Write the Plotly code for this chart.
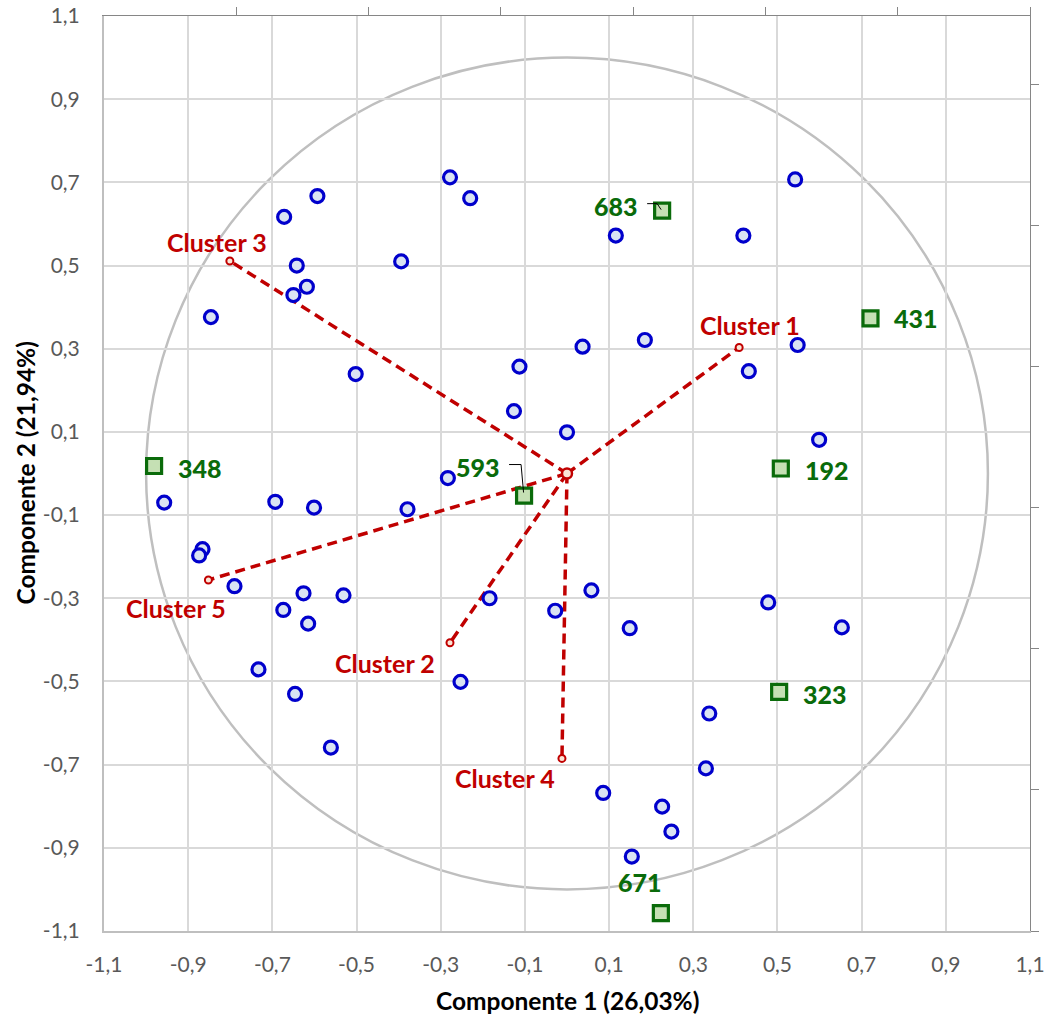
import plotly.graph_objects as go

# ---- data -------------------------------------------------------------
# variables projected on the first two principal components
var_x = [-0.278, -0.230, -0.593, -0.672, -0.642, -0.618, -0.650, -0.846, -0.394, -0.502,
         0.116, 0.037, 0.185, -0.113, -0.126, 0.000, -0.283, 0.542, 0.419, 0.548,
         0.432, 0.599, -0.957, -0.693, -0.601, -0.379, -0.866, -0.874, -0.790, -0.626,
         -0.531, -0.674, -0.615, -0.733, -0.646, -0.561, -0.184, -0.028, 0.058, 0.149,
         -0.253, 0.478, 0.653, 0.338, 0.330, 0.086, 0.226, 0.248, 0.154]
var_y = [0.712, 0.662, 0.667, 0.617, 0.500, 0.449, 0.429, 0.376, 0.510, 0.239,
         0.572, 0.305, 0.321, 0.257, 0.150, 0.099, -0.011, 0.707, 0.572, 0.309,
         0.246, 0.081, -0.070, -0.068, -0.082, -0.086, -0.182, -0.197, -0.271, -0.288,
         -0.293, -0.328, -0.361, -0.471, -0.530, -0.659, -0.300, -0.330, -0.281, -0.372,
         -0.501, -0.310, -0.370, -0.577, -0.709, -0.768, -0.801, -0.861, -0.921]

# highlighted individuals
ind_labels = ["683", "431", "192", "348", "593", "323", "671"]
ind_x = [0.226, 0.721, 0.508, -0.981, -0.102, 0.504, 0.223]
ind_y = [0.632, 0.373, 0.012, 0.018, -0.053, -0.525, -1.057]

# cluster centroids, joined to the common centre
cluster_names = ["Cluster 1", "Cluster 2", "Cluster 3", "Cluster 4", "Cluster 5"]
cluster_x = [0.409, -0.278, -0.801, -0.012, -0.852]
cluster_y = [0.303, -0.407, 0.511, -0.685, -0.256]
centre_x, centre_y = 0.0, 0.0

# correlation circle radius
circle_r = 1.0

# axis ticks
tick_vals = [-1.1, -0.9, -0.7, -0.5, -0.3, -0.1, 0.1, 0.3, 0.5, 0.7, 0.9, 1.1]
tick_text = ["-1,1", "-0,9", "-0,7", "-0,5", "-0,3", "-0,1",
             "0,1", "0,3", "0,5", "0,7", "0,9", "1,1"]
x_title = "Componente 1 (26,03%)"
y_title = "Componente 2 (21,94%)"

# ---- styling ----------------------------------------------------------
FONT = "Lato"
RED = "#C00000"
GREEN = "#0A6B0A"
BLUE = "#0000CC"

# label offsets in pixels (dx, dy; dy positive = up)
ind_offsets = {"683": (-46, 5), "431": (46, 0), "192": (46, -1), "348": (46, -2),
               "593": (-46, 29), "323": (46, -2), "671": (-21, 31)}
cluster_offsets = {"Cluster 1": (11, 22), "Cluster 2": (-65, -20), "Cluster 3": (-13, 19),
                   "Cluster 4": (-57, -20), "Cluster 5": (-32, -28)}
# small elbow leader lines for labels close to their marker
leaders = {"683": "M -15,7 L -5,7 L -1,1", "593": "M -15,31 L -3,31 L -0.5,3"}

fig = go.Figure()

# dashed spokes from the centre to each cluster
spoke_x, spoke_y = [], []
for cx, cy in zip(cluster_x, cluster_y):
    spoke_x += [centre_x, cx, None]
    spoke_y += [centre_y, cy, None]
fig.add_trace(go.Scatter(x=spoke_x, y=spoke_y, mode="lines",
                         line=dict(color=RED, width=3.5, dash="10px,6px"),
                         hoverinfo="skip", showlegend=False))

fig.add_trace(go.Scatter(x=var_x, y=var_y, mode="markers",
                         marker=dict(symbol="circle", size=13, color="#DAE3F3",
                                     line=dict(color=BLUE, width=3.2)),
                         showlegend=False))

fig.add_trace(go.Scatter(x=ind_x, y=ind_y, mode="markers", text=ind_labels,
                         marker=dict(symbol="square", size=15, color="#C5E0B4",
                                     line=dict(color=GREEN, width=3.2)),
                         showlegend=False))

fig.add_trace(go.Scatter(x=cluster_x, y=cluster_y, mode="markers", text=cluster_names,
                         marker=dict(symbol="circle", size=7, color="#FBE5D6",
                                     line=dict(color=RED, width=2)),
                         showlegend=False))
fig.add_trace(go.Scatter(x=[centre_x], y=[centre_y], mode="markers",
                         marker=dict(symbol="circle", size=10, color="#FBE5D6",
                                     line=dict(color=RED, width=2.5)),
                         showlegend=False))

# secondary frame axes (top / right tick marks only)
fig.add_trace(go.Scatter(x=[], y=[], xaxis="x2", yaxis="y2", showlegend=False,
                         hoverinfo="skip"))

annotations = []
for lab, x, y in zip(ind_labels, ind_x, ind_y):
    dx, dy = ind_offsets[lab]
    annotations.append(dict(x=x, y=y, xref="x", yref="y", text=lab, showarrow=False,
                            xshift=dx, yshift=dy, xanchor="center", yanchor="middle",
                            font=dict(family=FONT, size=25, color=GREEN, weight=900)))
for lab, x, y in zip(cluster_names, cluster_x, cluster_y):
    dx, dy = cluster_offsets[lab]
    annotations.append(dict(x=x, y=y, xref="x", yref="y", text=lab, showarrow=False,
                            xshift=dx, yshift=dy, xanchor="center", yanchor="middle",
                            font=dict(family=FONT, size=25, color=RED, weight="bold")))
annotations.append(dict(x=0.5, y=0, xref="paper", yref="paper", text=x_title,
                        showarrow=False, yshift=-69, xanchor="center", yanchor="middle",
                        font=dict(family=FONT, size=24.5, color="black", weight="bold")))
annotations.append(dict(x=0, y=0.5, xref="paper", yref="paper", text=y_title,
                        showarrow=False, xshift=-79, textangle=-90,
                        xanchor="center", yanchor="middle",
                        font=dict(family=FONT, size=24.5, color="black", weight="bold")))

shapes = [dict(type="circle", xref="x", yref="y", layer="below",
               x0=-circle_r, y0=-circle_r, x1=circle_r, y1=circle_r,
               line=dict(color="#BFBFBF", width=2.5))]
for i, lab in enumerate(ind_labels):
    if lab in leaders:
        shapes.append(dict(type="path", xref="x", yref="y",
                           xsizemode="pixel", ysizemode="pixel",
                           xanchor=ind_x[i], yanchor=ind_y[i], path=leaders[lab],
                           line=dict(color="black", width=1)))

axis_common = dict(range=[-1.1, 1.1], tickvals=tick_vals, ticktext=tick_text,
                   showgrid=True, gridcolor="#D9D9D9", gridwidth=1.5, automargin=False,
                   zeroline=False, showline=True, linecolor="#BFBFBF", linewidth=2,
                   ticks="", tickfont=dict(family=FONT, size=21, color="#595959"))
frame_common = dict(ticks="outside", ticklen=8, tickcolor="#868686", tickwidth=1,
                    showline=True, linecolor="#868686", linewidth=1, automargin=False,
                    showgrid=False, zeroline=False, showticklabels=False)

fig.update_layout(
    width=1049, height=1018,
    margin=dict(l=104, r=19, t=16, b=87),
    paper_bgcolor="white", plot_bgcolor="white",
    xaxis=dict(**axis_common, ticklabelstandoff=14),
    yaxis=dict(**axis_common, ticklabelstandoff=18),
    xaxis2=dict(overlaying="x", side="top", anchor="y2", range=[0, 7],
                tickvals=[1, 2, 3, 4, 5, 6, 7], **frame_common),
    yaxis2=dict(overlaying="y", side="right", anchor="x2", range=[0, 6.489],
                tickvals=[0, 1, 2, 3, 4, 5, 6], **frame_common),
    annotations=annotations,
    shapes=shapes,
    hovermode="closest",
)

fig.write_html("out.html")
